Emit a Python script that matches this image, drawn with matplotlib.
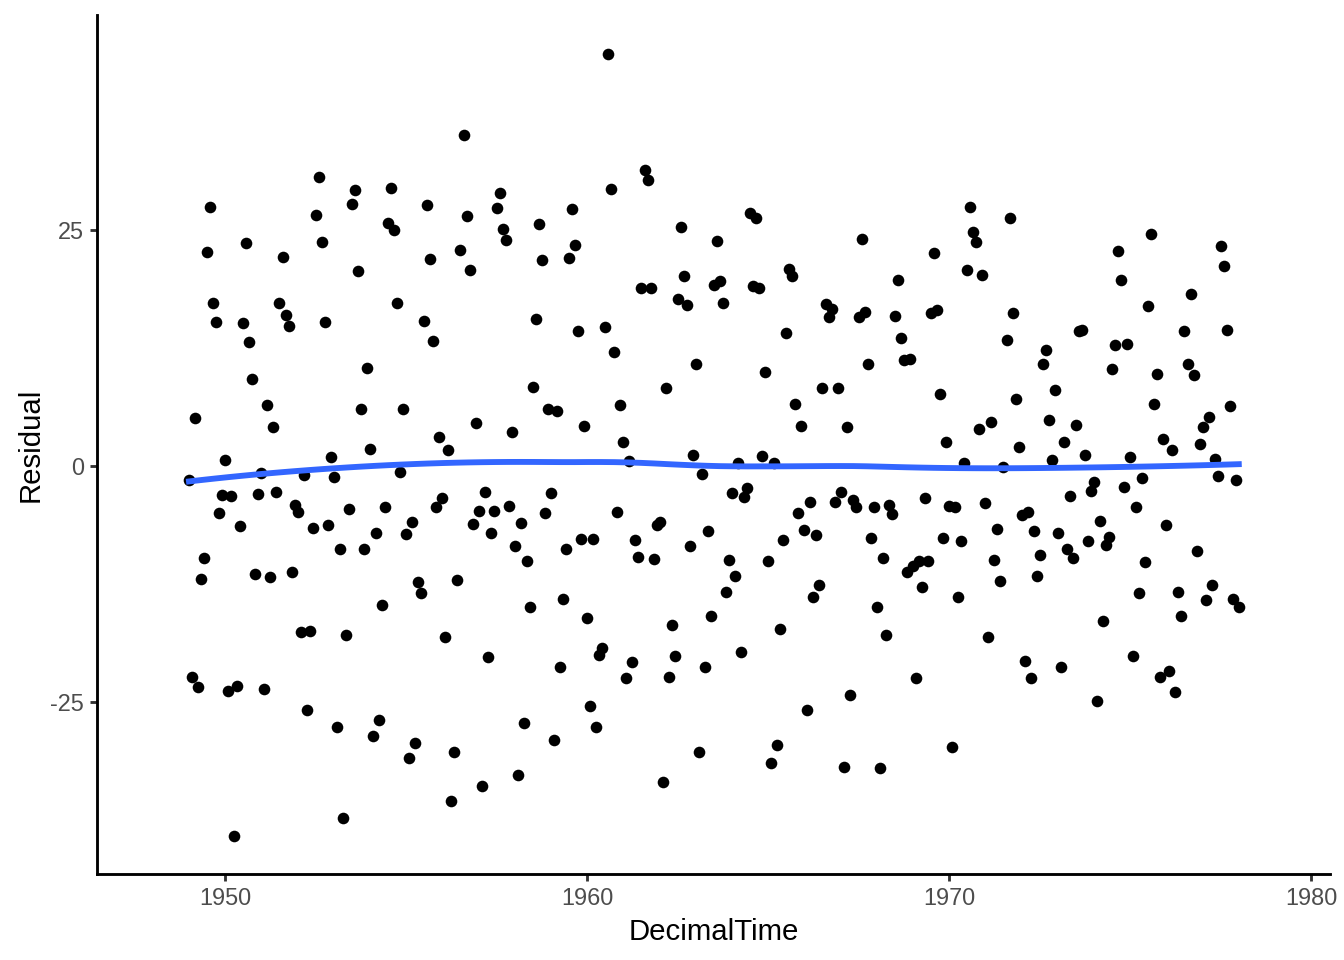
import numpy as np
import matplotlib
matplotlib.use("Agg")
import matplotlib.pyplot as plt

plt.rcParams['font.family'] = ['Liberation Sans', 'DejaVu Sans']
plt.rcParams['axes.unicode_minus'] = False

# monthly series, Jan 1949 .. Jan 1978
start_year = 1949
n_months = 349

# residuals, in time order
residual = [
    -1.5, -22.3, 5.1, -23.4, -12.0, -9.7, 22.7, 27.4, 17.3, 15.2,
    -5.0, -3.1, 0.6, -23.8, -3.2, -39.2, -23.3, -6.4, 15.1, 23.6,
    13.1, 9.2, -11.4, -3.0, -0.7, -23.6, 6.4, -11.8, 4.1, -2.8,
    17.2, 22.1, 16.0, 14.8, -11.2, -4.1, -4.9, -17.6, -1.0, -25.8,
    -17.5, -6.6, 26.6, 30.6, 23.7, 15.2, -6.3, 0.9, -1.2, -27.6,
    -8.8, -37.3, -17.9, -4.6, 27.7, 29.2, 20.6, 6.0, -8.8, 10.4,
    1.8, -28.6, -7.1, -26.9, -14.7, -4.3, 25.7, 29.4, 25.0, 17.3,
    -0.6, 6.0, -7.2, -30.9, -5.9, -29.3, -12.3, -13.5, 15.3, 27.6,
    21.9, 13.2, -4.4, 3.1, -3.4, -18.1, 1.7, -35.5, -30.3, -12.1,
    22.9, 35.0, 26.5, 20.7, -6.1, 4.5, -4.8, -33.9, -2.8, -20.2,
    -7.1, -4.8, 27.3, 28.9, 25.1, 23.9, -4.2, 3.6, -8.5, -32.7,
    -6.0, -27.2, -10.1, -14.9, 8.4, 15.6, 25.6, 21.8, -5.0, 6.0,
    -2.9, -29.0, 5.8, -21.3, -14.1, -8.8, 22.0, 27.2, 23.4, 14.3,
    -7.7, 4.2, -16.1, -25.4, -7.7, -27.6, -20.0, -19.3, 14.7, 43.6,
    29.3, 12.1, -4.9, 6.4, 2.5, -22.5, 0.5, -20.8, -7.8, -9.6,
    18.8, 31.3, 30.3, 18.8, -9.9, -6.3, -5.9, -33.5, 8.3, -22.3,
    -16.8, -20.1, 17.7, 25.3, 20.1, 17.0, -8.5, 1.2, 10.8, -30.3,
    -0.9, -21.3, -6.9, -15.9, 19.2, 23.8, 19.6, 17.2, -13.4, -10.0,
    -2.9, -11.7, 0.3, -19.7, -3.3, -2.3, 26.8, 19.1, 26.3, 18.8,
    1.0, 9.9, -10.1, -31.4, 0.3, -29.5, -17.3, -7.8, 14.1, 20.9,
    20.1, 6.6, -5.0, 4.2, -6.8, -25.8, -3.8, -13.9, -7.3, -12.6,
    8.2, 17.1, 15.8, 16.6, -3.8, 8.2, -2.8, -31.9, 4.1, -24.3,
    -3.6, -4.4, 15.8, 24.0, 16.3, 10.8, -7.6, -4.3, -14.9, -32.0,
    -9.8, -17.9, -4.1, -5.1, 15.9, 19.7, 13.5, 11.2, -11.2, 11.3,
    -10.6, -22.5, -10.1, -12.8, -3.4, -10.1, 16.2, 22.5, 16.5, 7.6,
    -7.6, 2.5, -4.2, -29.8, -4.4, -13.9, -8.0, 0.3, 20.7, 27.4,
    24.8, 23.7, 3.9, 20.2, -3.9, -18.1, 4.7, -10.0, -6.7, -12.2,
    -0.1, 13.3, 26.2, 16.2, 7.1, 2.0, -5.2, -20.6, -4.9, -22.4,
    -6.9, -11.7, -9.4, 10.8, 12.3, 4.9, 0.6, 8.0, -7.1, -21.3,
    2.5, -8.8, -3.2, -9.8, 4.3, 14.3, 14.4, 1.2, -7.9, -2.7,
    -1.7, -24.9, -5.8, -16.4, -8.4, -7.5, 10.3, 12.8, 22.8, 19.7,
    -2.2, 12.9, 0.9, -20.1, -4.4, -13.5, -1.3, -10.2, 16.9, 24.6,
    6.6, 9.7, -22.3, 2.8, -6.3, -21.7, 1.7, -23.9, -13.4, -15.9,
    14.3, 10.8, 18.2, 9.6, -9.0, 2.3, 4.1, -14.2, 5.2, -12.6,
    0.7, -1.1, 23.3, 21.2, 14.4, 6.3, -14.1, -1.5, -14.9,
]

x_ticks = [1950, 1960, 1970, 1980]
y_ticks = [-25, 0, 25]

decimal_time = start_year + np.arange(n_months) / 12.0
residual = np.array(residual)


def loess(x, y, xout, span=0.75):
    """local quadratic fit with tricube weights (like ggplot's default smoother)"""
    n = len(x)
    q = int(np.floor(n * span))
    fit = []
    for x0 in xout:
        d = np.abs(x - x0)
        dq = np.sort(d)[q - 1]
        w = np.clip(1 - (d / dq) ** 3, 0, None) ** 3
        X = np.column_stack([np.ones(n), x - x0, (x - x0) ** 2])
        W = np.sqrt(w)
        beta = np.linalg.lstsq(X * W[:, None], y * W, rcond=None)[0]
        fit.append(beta[0])
    return np.array(fit)


grid = np.linspace(decimal_time.min(), decimal_time.max(), 80)
smooth = loess(decimal_time, residual, grid)

fig = plt.figure(figsize=(7, 5), dpi=192)
ax = fig.add_axes([0.0722, 0.0896, 0.9174, 0.8944])

ax.scatter(decimal_time, residual, s=19, color="black", linewidths=0, zorder=2)
ax.plot(grid, smooth, color="#3366FF", linewidth=2.2, zorder=3)

ax.set_xlim(1946.46, 1980.52)
ax.set_ylim(-43.2, 47.7)
ax.set_xticks(x_ticks)
ax.set_yticks(y_ticks)

for side in ["top", "right"]:
    ax.spines[side].set_visible(False)
for side in ["left", "bottom"]:
    ax.spines[side].set_linewidth(1.07)
    ax.spines[side].set_color("black")

ax.tick_params(axis="both", length=2.75, width=1.07, color="#333333",
               labelsize=8.8, labelcolor="#4D4D4D", pad=2.2)

ax.set_xlabel("DecimalTime", fontsize=11, labelpad=3)
ax.set_ylabel("Residual", fontsize=11, labelpad=2)

fig.savefig("out.png", dpi=192)
